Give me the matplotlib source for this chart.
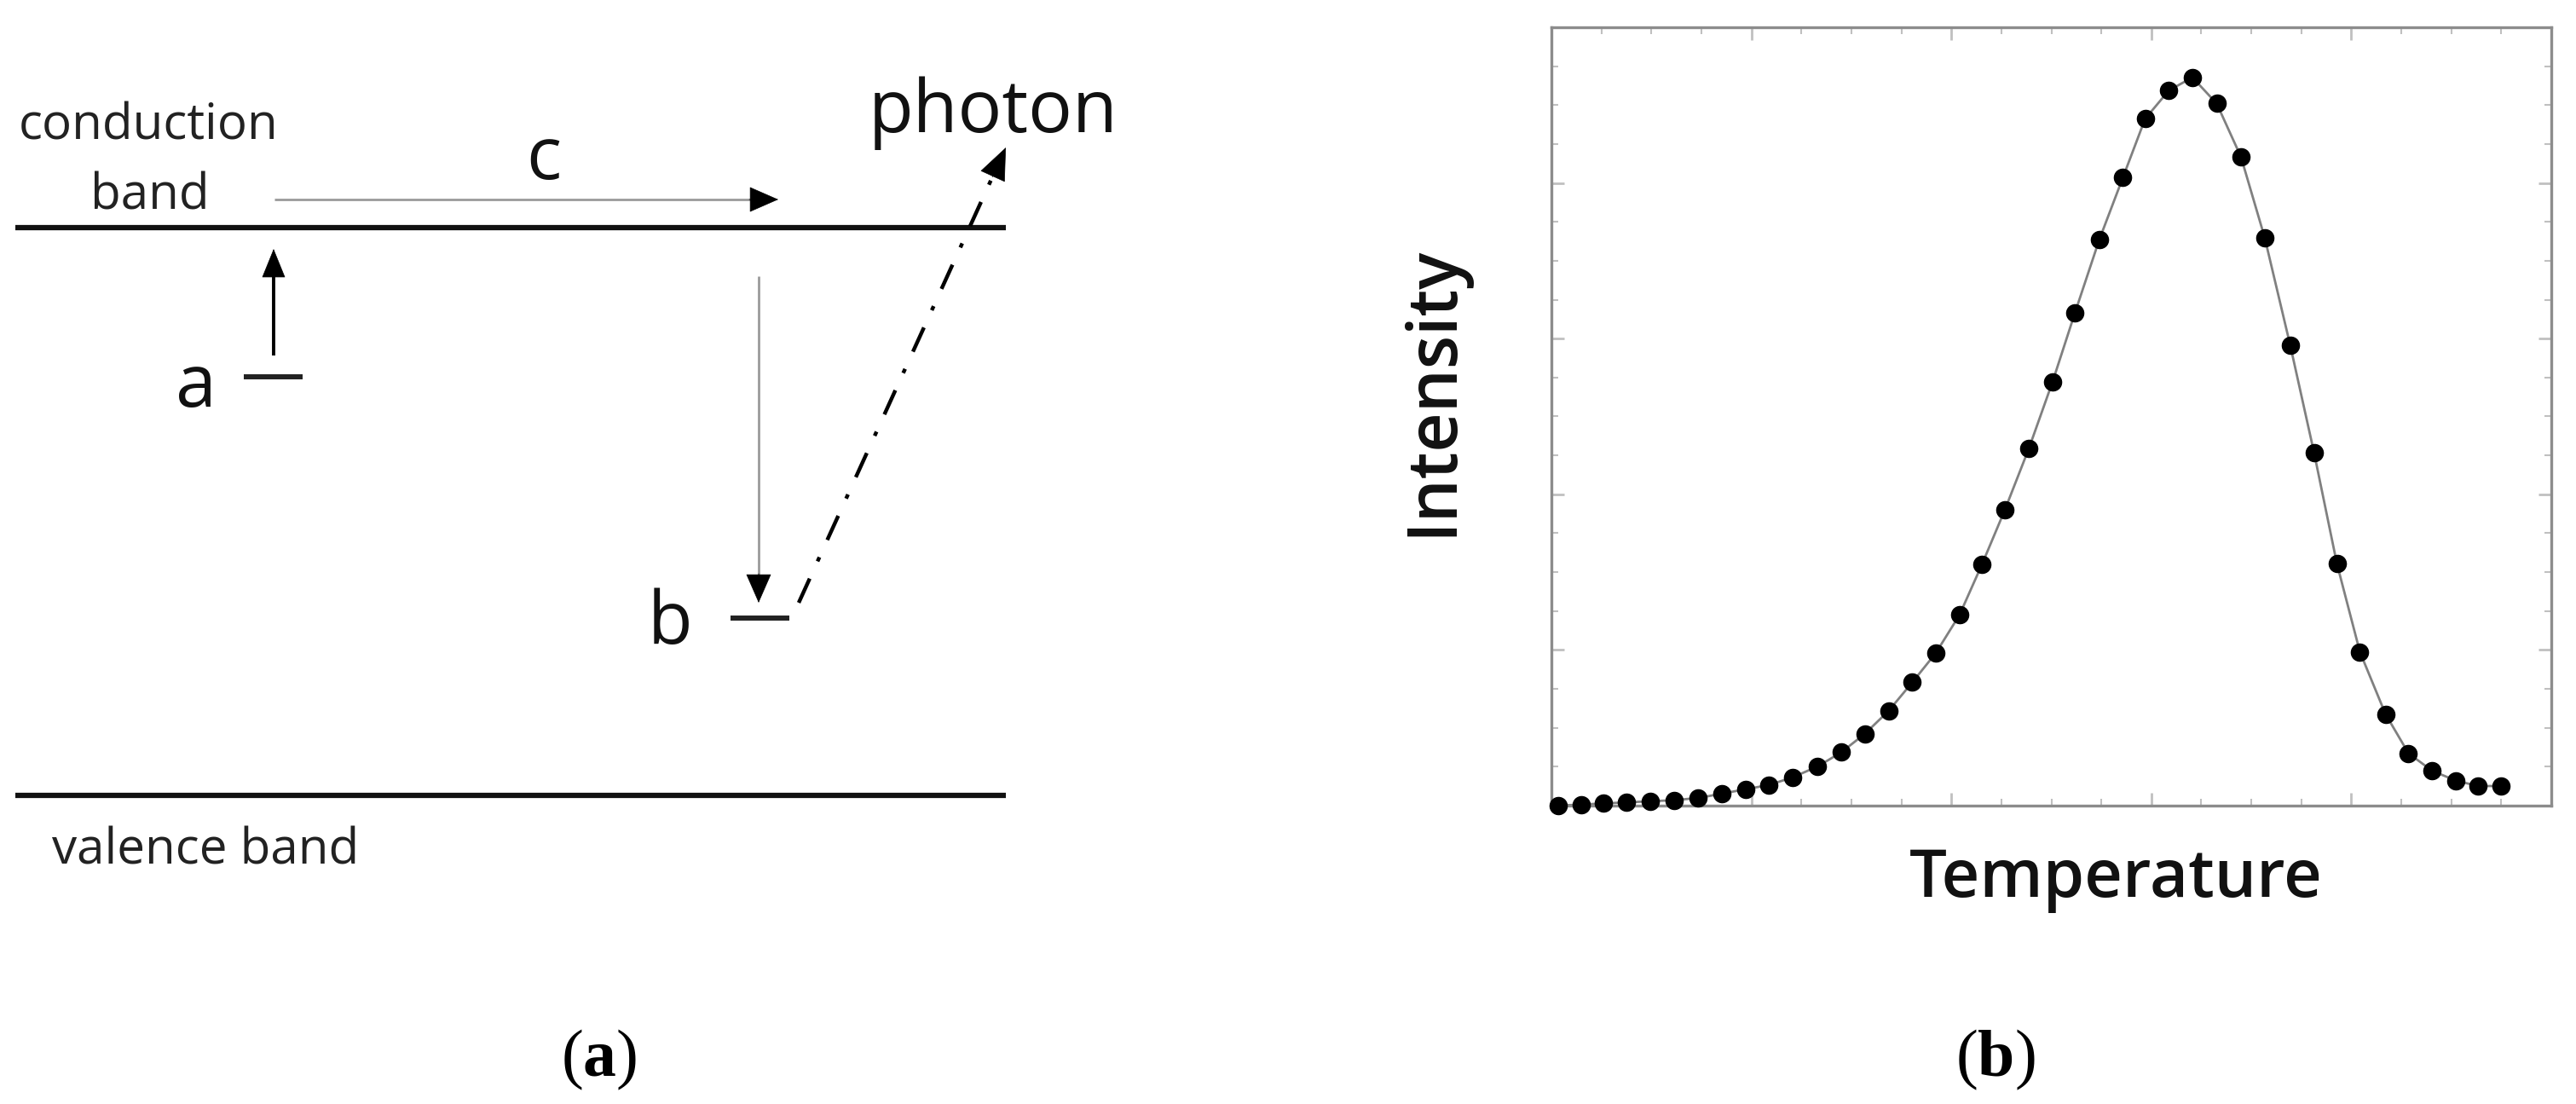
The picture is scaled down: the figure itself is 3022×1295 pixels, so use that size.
import numpy as np
import matplotlib
matplotlib.use('Agg')
import matplotlib.pyplot as plt
from matplotlib.ticker import MultipleLocator

W, H = 3022, 1295
DPI = 100

plt.rcParams['mathtext.fontset'] = 'custom'
plt.rcParams['mathtext.rm'] = 'Liberation Serif'
plt.rcParams['mathtext.bf'] = 'Liberation Serif:bold'

# (b) glow curve (arbitrary units, 0-100)
temperature = [0.64, 3.00, 5.23, 7.53, 9.89, 12.26, 14.69, 17.05, 19.41, 21.78,
               24.14, 26.64, 29.00, 31.36, 33.73, 36.09, 38.45, 40.82, 43.05, 45.34,
               47.77, 50.13, 52.36, 54.79, 57.15, 59.38, 61.75, 64.11, 66.54, 68.97,
               71.34, 73.90, 76.27, 78.56, 80.86, 83.42, 85.72, 88.08, 90.44, 92.67,
               94.97]
intensity = [0.00, 0.14, 0.28, 0.42, 0.56, 0.70, 0.98, 1.54, 2.10, 2.66,
             3.64, 5.04, 6.86, 9.24, 12.18, 15.83, 19.61, 24.51, 30.95, 37.96,
             45.94, 54.48, 63.31, 72.69, 80.67, 88.24, 91.88, 93.56, 90.20, 83.33,
             72.97, 59.10, 45.38, 31.09, 19.75, 11.76, 6.72, 4.48, 3.22, 2.52,
             2.52]

# (a) band diagram, canvas pixels (y down)
band_x = [18, 1180]
conduction_y = 267
valence_y = 933
level_a_x, level_a_y = [286, 355], 442
level_b_x, level_b_y = [857, 926], 725


def px2pt(v):
    return v * 72.0 / DPI


def arrow(ax, start, end, color='black', lw=2.0, ls='-', head_len=30, head_w=13):
    start = np.array(start, float)
    end = np.array(end, float)
    d = (end - start) / np.hypot(*(end - start))
    base = end - d * head_len
    ax.plot([start[0], base[0]], [start[1], base[1]], color=color, lw=lw,
            ls=ls, solid_capstyle='butt')
    style = '-|>,head_length=%.2f,head_width=%.2f' % (px2pt(head_len), px2pt(head_w))
    ax.annotate('', xy=end, xytext=base - d * 2,
                arrowprops=dict(arrowstyle=style, color='black', lw=0.5,
                                shrinkA=0, shrinkB=0, mutation_scale=1))


fig = plt.figure(figsize=(W / DPI, H / DPI), dpi=DPI)

# ---- (a) ----
diag = fig.add_axes([0, 0, 1, 1])
diag.set_xlim(0, W)
diag.set_ylim(H, 0)
diag.axis('off')

diag.plot(band_x, [conduction_y] * 2, color='#111111', lw=4.5, solid_capstyle='butt')
diag.plot(band_x, [valence_y] * 2, color='#111111', lw=4.5, solid_capstyle='butt')
diag.plot(level_a_x, [level_a_y] * 2, color='#222222', lw=4.3, solid_capstyle='butt')
diag.plot(level_b_x, [level_b_y] * 2, color='#222222', lw=4.3, solid_capstyle='butt')

arrow(diag, (321, 417), (321, 292), color='black', lw=2.8, head_len=32, head_w=13)
arrow(diag, (322, 234), (913, 234), color='#9a9a9a', lw=2.0, head_len=32, head_w=14)
arrow(diag, (890, 324), (890, 707), color='#9a9a9a', lw=2.0, head_len=32, head_w=14)
arrow(diag, (937, 707), (1180, 173), color='black', lw=3.2,
      ls=(0, (7, 5, 1.2, 5)), head_len=36, head_w=15)

small = dict(family='Open Sans', fontsize=42, color='#222222', va='baseline', ha='center')
big = dict(family='Open Sans', fontsize=62, color='#111111', va='baseline', ha='center')
diag.text(174, 163, 'conduction', **small)
diag.text(176, 245, 'band', **small)
diag.text(241, 1013, 'valence band', **small)
diag.text(638, 210, 'c', **big)
diag.text(230, 477, 'a', **big)
diag.text(786, 755, 'b', **big)
diag.text(1165, 155, 'photon', **big)

sub = dict(family='Liberation Serif', fontsize=56, va='baseline', ha='center')
diag.text(703, 1262, r'($\mathbf{a}$)', **sub)
diag.text(2341, 1262, r'($\mathbf{b}$)', **sub)

# ---- (b) ----
ax = fig.add_axes([1820 / W, 1 - 945 / H, 1173 / W, 913 / H])
ax.plot(temperature, intensity, color='#808080', lw=2.0, zorder=2)
ax.plot(temperature, intensity, ls='none', marker='o', ms=14.5,
        color='black', clip_on=False, zorder=3)
ax.set_xlim(0, 100)
ax.set_ylim(0, 100)
ax.xaxis.set_major_locator(MultipleLocator(20))
ax.xaxis.set_minor_locator(MultipleLocator(5))
ax.yaxis.set_major_locator(MultipleLocator(20))
ax.yaxis.set_minor_locator(MultipleLocator(5))
ax.tick_params(which='both', direction='in', top=True, right=True,
               labelbottom=False, labelleft=False, color='#c0c0c0')
ax.tick_params(which='major', length=11, width=2)
ax.tick_params(which='minor', length=6, width=1.5)
for s in ax.spines.values():
    s.set_color('#8c8c8c')
    s.set_linewidth(2.4)

lab = dict(family='Open Sans', fontweight='semibold', color='#111111')
ax.set_xlabel('Temperature', fontsize=56, **lab)
ax.xaxis.set_label_coords(0.565, -0.117)
ax.xaxis.label.set_va('baseline')
ax.set_ylabel('Intensity', fontsize=58, **lab)
ax.yaxis.set_label_coords(-0.1006, 0.533)
ax.yaxis.label.set_rotation_mode('anchor')
ax.yaxis.label.set_va('baseline')
ax.yaxis.label.set_ha('center')

fig.savefig('out.png', dpi=DPI)
